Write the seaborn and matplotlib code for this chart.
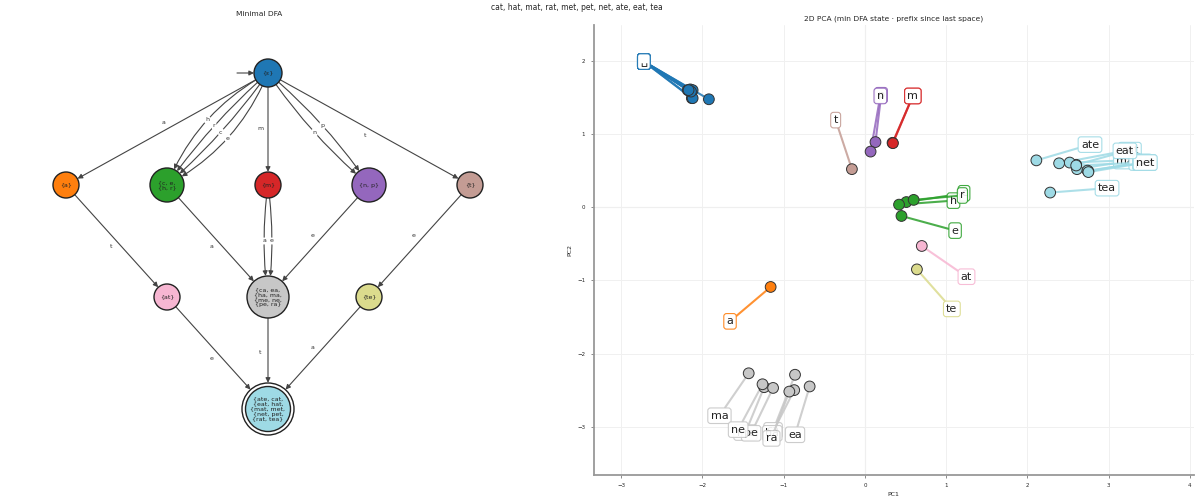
import numpy as np
import pandas as pd
import matplotlib
matplotlib.use("Agg")
import matplotlib.pyplot as plt
from matplotlib.patches import Circle, FancyArrowPatch
import seaborn as sns

corpus = "cat, hat, mat, rat, met, pet, net, ate, eat, tea"

# ---- minimal DFA ----
state_labels = ["{ε}", "{a}", "{c, e,\n{h, r}", "{m}", "{n, p}", "{t}",
                "{at}", "{ca, ea,\n{ha, ma,\n{me, ne,\n{pe, ra}", "{te}",
                "{ate, cat,\n{eat, hat,\n{mat, met,\n{net, pet,\n{rat, tea}"]
state_layer = [0, 1, 1, 1, 1, 1, 2, 2, 2, 3]
final_states = [9]

edge_src = [0, 0, 0, 0, 0, 0, 0, 0, 0, 1, 2, 3, 3, 4, 5, 6, 7, 8]
edge_dst = [1, 2, 2, 2, 2, 3, 4, 4, 5, 6, 7, 7, 7, 7, 8, 9, 9, 9]
edge_sym = ["a", "h", "r", "c", "e", "m", "n", "p", "t", "t", "a", "a", "e", "e", "e", "e", "t", "a"]

# ---- PCA of (state, prefix since last space), one point per character ----
chars = list("cat hat mat rat met pet net ate eat tea")
pc1 = [0.51, -0.86, 2.60, -2.18,
       0.42, -0.87, 2.52, -2.15,
       0.34, -1.43, 2.61, -2.12,
       0.60, -0.93, 2.75, -2.13,
       0.345, -1.24, 2.60, -1.92,
       0.13, -1.13, 2.74, -2.16,
       0.07, -1.26, 2.75, -2.12,
       -1.16, 0.70, 2.11, -2.14,
       0.45, -0.68, 2.39, -2.17,
       -0.16, 0.64, 2.28]
pc2 = [0.07, -2.29, 0.58, 1.60,
       0.035, -2.50, 0.61, 1.61,
       0.88, -2.27, 0.52, 1.60,
       0.10, -2.52, 0.49, 1.49,
       0.875, -2.46, 0.57, 1.475,
       0.89, -2.47, 0.50, 1.59,
       0.76, -2.42, 0.48, 1.49,
       -1.09, -0.53, 0.64, 1.58,
       -0.12, -2.45, 0.60, 1.60,
       0.52, -0.85, 0.20]
# where the repelled labels ended up
text_pc1 = [1.22, -1.13, 3.26, -2.72,
            1.09, -1.14, 3.22, -2.72,
            0.59, -1.79, 3.23, -2.72,
            1.20, -1.15, 3.40, -2.72,
            0.59, -1.47, 3.42, -2.72,
            0.20, -1.40, 3.44, -2.72,
            0.19, -1.56, 3.45, -2.72,
            -1.66, 1.25, 2.77, -2.72,
            1.11, -0.86, 3.20, -2.72,
            -0.36, 1.07, 2.98]
text_pc2 = [0.19, -3.05, 0.78, 1.99,
            0.09, -3.09, 0.64, 1.99,
            1.52, -2.85, 0.63, 1.99,
            0.16, -3.16, 0.62, 1.99,
            1.52, -3.08, 0.61, 1.99,
            1.53, -3.09, 0.61, 1.99,
            1.52, -3.04, 0.61, 1.99,
            -1.56, -0.95, 0.855, 1.99,
            -0.32, -3.11, 0.77, 1.99,
            1.19, -1.39, 0.26]

n_states = len(state_labels)
cmap = plt.get_cmap("tab20")
state_colors = [cmap(v) for v in np.linspace(0, 1, n_states)]

# run the DFA over the text to get the state / prefix of every character
delta = {(s, a): d for s, d, a in zip(edge_src, edge_dst, edge_sym)}
states, prefixes = [], []
cur, pre = 0, ""
for ch in chars:
    if ch == " ":
        cur, pre = 0, ""
        prefixes.append("␣")
    else:
        cur = delta[(cur, ch)]
        pre += ch
        prefixes.append(pre)
    states.append(cur)

df = pd.DataFrame({"PC1": pc1, "PC2": pc2, "tx": text_pc1, "ty": text_pc2,
                   "state": states, "prefix": prefixes})

sns.set_theme(style="ticks")
plt.rcParams["font.family"] = ["DejaVu Sans"]

fig = plt.figure(figsize=(12, 5), dpi=100)
fig.text(577 / 1200, 1 - 8 / 500, corpus, ha="center", va="center", fontsize=5.5)

# ---------------- left: DFA graph (axes in pixel units) ----------------
ax = fig.add_axes([19 / 1200, 20 / 500, 480 / 1200, 460 / 500])
ax.set_xlim(19, 499)
ax.set_ylim(480, 20)
ax.axis("off")
ax.set_title("Minimal DFA", fontsize=5.4, pad=3)

cx, top, dx, dy = 268, 73, 101, 112
node_r = [14, 13, 17, 13, 17, 13, 13, 21, 13, 22.5]
pos = {}
for lay in sorted(set(state_layer)):
    members = [i for i, l in enumerate(state_layer) if l == lay]
    for k, i in enumerate(members):
        pos[i] = (cx + dx * (k - (len(members) - 1) / 2), top + dy * lay)

circles = {}
for i in range(n_states):
    x, y = pos[i]
    if i in final_states:
        outer = Circle((x, y), node_r[i] + 3.5, fc="white", ec="#222", lw=1.0, zorder=2)
        ax.add_patch(outer)
        circles[i] = outer
        ax.add_patch(Circle((x, y), node_r[i], fc=state_colors[i], ec="#222", lw=1.0, zorder=3))
    else:
        c = Circle((x, y), node_r[i], fc=state_colors[i], ec="#222", lw=1.0, zorder=2)
        ax.add_patch(c)
        circles[i] = c
    ax.text(x, y, state_labels[i], ha="center", va="center", fontsize=4.5,
            color="#222", linespacing=1.0, zorder=4)

# start arrow
sx, sy = pos[0]
ax.add_patch(FancyArrowPatch((sx - node_r[0] - 17, sy), (sx - node_r[0], sy),
                             arrowstyle="-|>", mutation_scale=7, color="#444",
                             lw=0.8, shrinkA=0, shrinkB=0, zorder=1))

# curvature for parallel edges
groups = {}
for k, (s, d) in enumerate(zip(edge_src, edge_dst)):
    groups.setdefault((s, d), []).append(k)
rad = {}
for key, ks in groups.items():
    n = len(ks)
    spread = 0.12 if n > 2 else 0.14
    for j, k in enumerate(ks):
        rad[k] = spread * ((n - 1) / 2 - j) if n > 1 else 0.0

for k, (s, d, sym) in enumerate(zip(edge_src, edge_dst, edge_sym)):
    (x1, y1), (x2, y2) = pos[s], pos[d]
    f = rad[k]
    arr = FancyArrowPatch((x1, y1), (x2, y2), arrowstyle="-|>", mutation_scale=7,
                          connectionstyle=f"arc3,rad={-f}", patchA=circles[s],
                          patchB=circles[d], shrinkA=0, shrinkB=0.5,
                          color="#444", lw=0.8, zorder=1)
    ax.add_patch(arr)
    ddx, ddy = x2 - x1, y2 - y1
    L = np.hypot(ddx, ddy)
    mx, my = (x1 + x2) / 2, (y1 + y2) / 2
    if len(groups[(s, d)]) > 1:
        lx, ly = mx - 0.5 * f * ddy, my + 0.5 * f * ddx
    else:
        lx, ly = mx - 8 * ddy / L, my + 8 * ddx / L
    ax.text(lx, ly, sym, ha="center", va="center", fontsize=4.5, color="#333",
            bbox=dict(boxstyle="round,pad=0.15", fc="white", ec="none"), zorder=3)

# ---------------- right: PCA scatter ----------------
ax2 = fig.add_axes([593.5 / 1200, 25 / 500, 600.5 / 1200, 450 / 500])
ax2.set_xlim(-3.34, 4.05)
ax2.set_ylim(-3.66, 2.49)
ax2.grid(True, color="#f0f0f0", lw=0.7)
ax2.axhline(0, color="#e4e4e4", lw=0.8, zorder=0)
ax2.axvline(0, color="#e4e4e4", lw=0.8, zorder=0)

for _, row in df.iterrows():
    col = state_colors[int(row["state"])]
    ax2.annotate(row["prefix"], xy=(row["PC1"], row["PC2"]), xytext=(row["tx"], row["ty"]),
                 fontsize=8, ha="center", va="center", color="#222", zorder=2,
                 bbox=dict(boxstyle="round,pad=0.25", fc="white", ec=col, lw=0.8, alpha=0.9),
                 arrowprops=dict(arrowstyle="-", color=col, lw=1.5, alpha=0.85,
                                 shrinkA=0, shrinkB=0))

sns.scatterplot(data=df, x="PC1", y="PC2", hue="state",
                palette={i: state_colors[i] for i in range(n_states)},
                s=60, edgecolor="#333", linewidth=0.7, legend=False, zorder=3, ax=ax2)

ax2.set_title("2D PCA (min DFA state · prefix since last space)", fontsize=5.4, pad=3)
ax2.set_xlabel("PC1", fontsize=4.5, labelpad=3)
ax2.set_ylabel("PC2", fontsize=4.5, labelpad=3)
ax2.tick_params(labelsize=4, length=2.5, width=0.6, color="#777")
for side in ["top", "right"]:
    ax2.spines[side].set_visible(False)
for side in ["left", "bottom"]:
    ax2.spines[side].set_color("#999")
    ax2.spines[side].set_linewidth(1.3)

fig.savefig("out.png", dpi=100)
